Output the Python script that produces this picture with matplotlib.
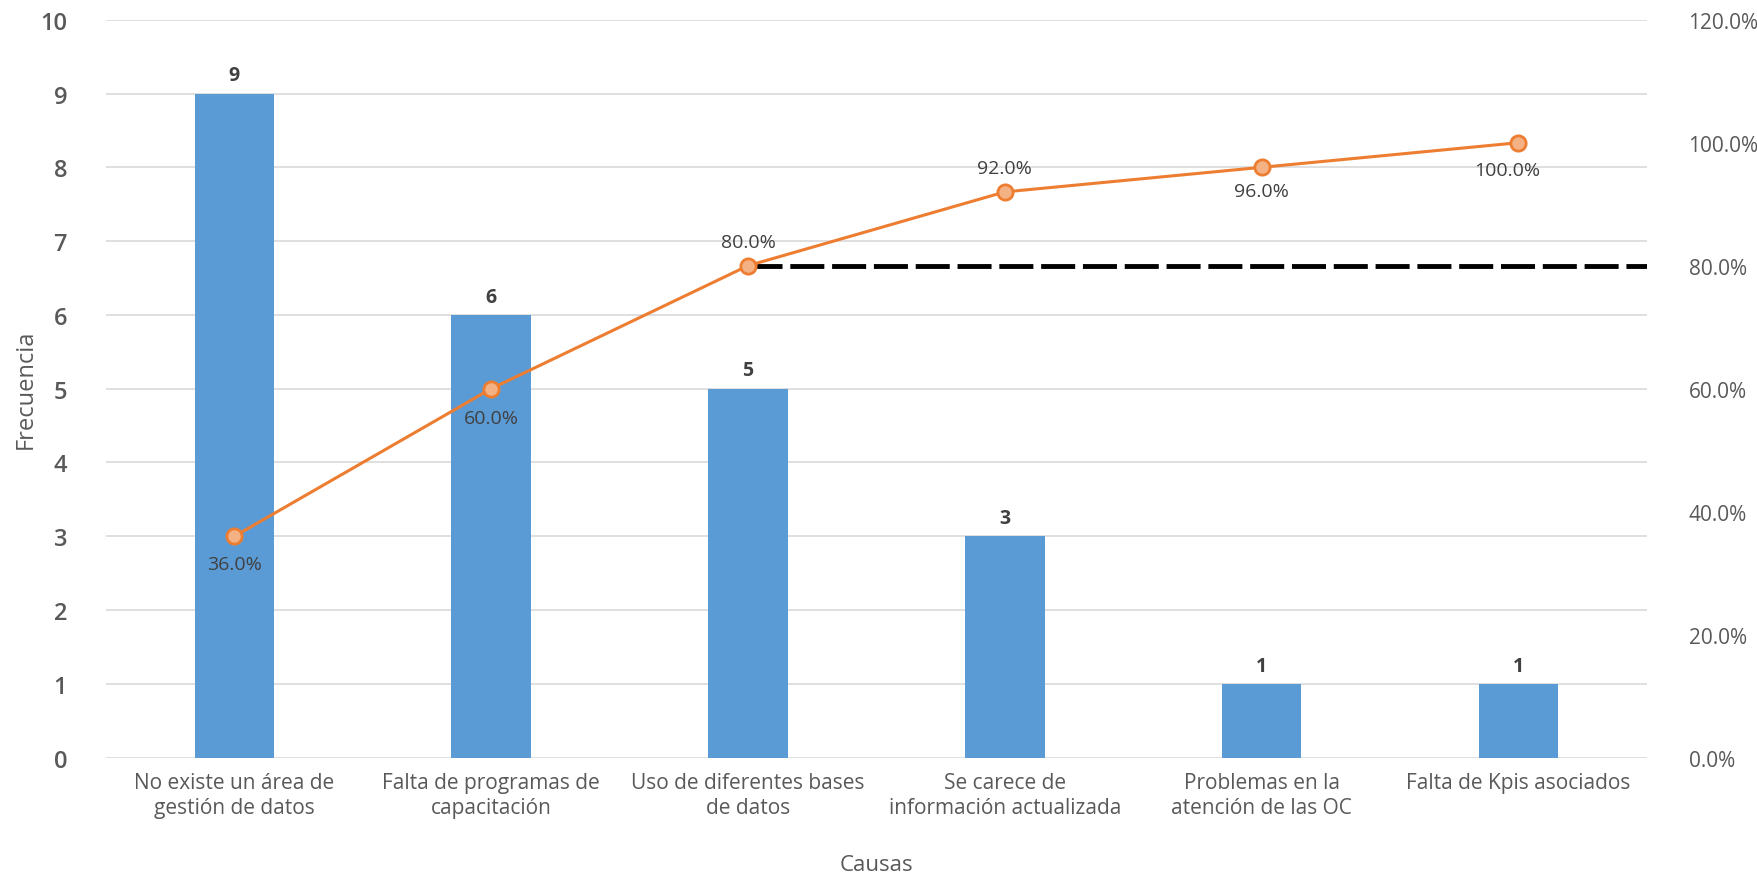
import numpy as np
import matplotlib.pyplot as plt

# Data
causas = ['No existe un área de\ngestión de datos', 'Falta de programas de\ncapacitación',
          'Uso de diferentes bases\nde datos', 'Se carece de\ninformación actualizada',
          'Problemas en la\natención de las OC', 'Falta de Kpis asociados']
frecuencia = [9, 6, 5, 3, 1, 1]
acumulado = [36.0, 60.0, 80.0, 92.0, 96.0, 100.0]
corte = 80.0

# label offsets (points) for the percentage labels
pct_offsets = [(0, -20), (0, -21), (0, 17), (0, 17), (0, -17), (-8, -20)]

plt.rcParams['font.family'] = ['Open Sans', 'DejaVu Sans']
grey = '#595959'

fig = plt.figure(figsize=(17.57, 8.78), dpi=100)
ax = fig.add_axes([0.0603, 0.1359, 0.877, 0.8405])
x = np.arange(len(causas))

ax.bar(x, frecuencia, 0.31, color='#5B9BD5', zorder=2)
for xi, v in zip(x, frecuencia):
    ax.annotate(str(v), (xi, v), xytext=(0, 6), textcoords='offset points',
                ha='center', va='bottom', fontsize=14, color='#404040', fontweight='bold')

ax.set_xlim(-0.5, len(causas) - 0.5)
ax.set_ylim(0, 10)
ax.set_yticks(range(0, 11))
ax.grid(axis='y', color='#D9D9D9', linewidth=1.2, zorder=0)
ax.set_axisbelow(True)
ax.set_xticks(x)
ax.set_xticklabels(causas, fontsize=15, color=grey, linespacing=1.3)
ax.tick_params(axis='y', labelsize=17, colors=grey, length=0, pad=28)
ax.tick_params(axis='x', length=0, pad=10)
for lbl in ax.get_yticklabels():
    lbl.set_fontweight('semibold')
for s in ax.spines.values():
    s.set_visible(False)
ax.set_ylabel('Frecuencia', fontsize=17, color=grey, labelpad=2)
ax.set_xlabel('Causas', fontsize=16, color=grey, labelpad=26)

ax2 = ax.twinx()
ax2.set_ylim(0, 120)
ax2.set_yticks(range(0, 121, 20))
ax2.set_yticklabels([f'{t:.1f}%' for t in range(0, 121, 20)])
ax2.tick_params(axis='y', labelsize=15, colors=grey, length=0, pad=30)
for s in ax2.spines.values():
    s.set_visible(False)

ax2.plot(x, acumulado, color='#ED7D31', linewidth=2.2, marker='o', markersize=11,
         markerfacecolor='#F4B183', markeredgecolor='#ED7D31', markeredgewidth=2, zorder=4)
for xi, v, off in zip(x, acumulado, pct_offsets):
    ax2.annotate(f'{v:.1f}%', (xi, v), xytext=off, textcoords='offset points',
                 ha='center', va='center', fontsize=14, color='#404040')

ax2.plot([x[2], len(causas) - 0.5], [corte, corte], color='black', linewidth=3.5,
         linestyle=(0, (7, 1.6)), zorder=3)

fig.savefig('out.png', dpi=100)
